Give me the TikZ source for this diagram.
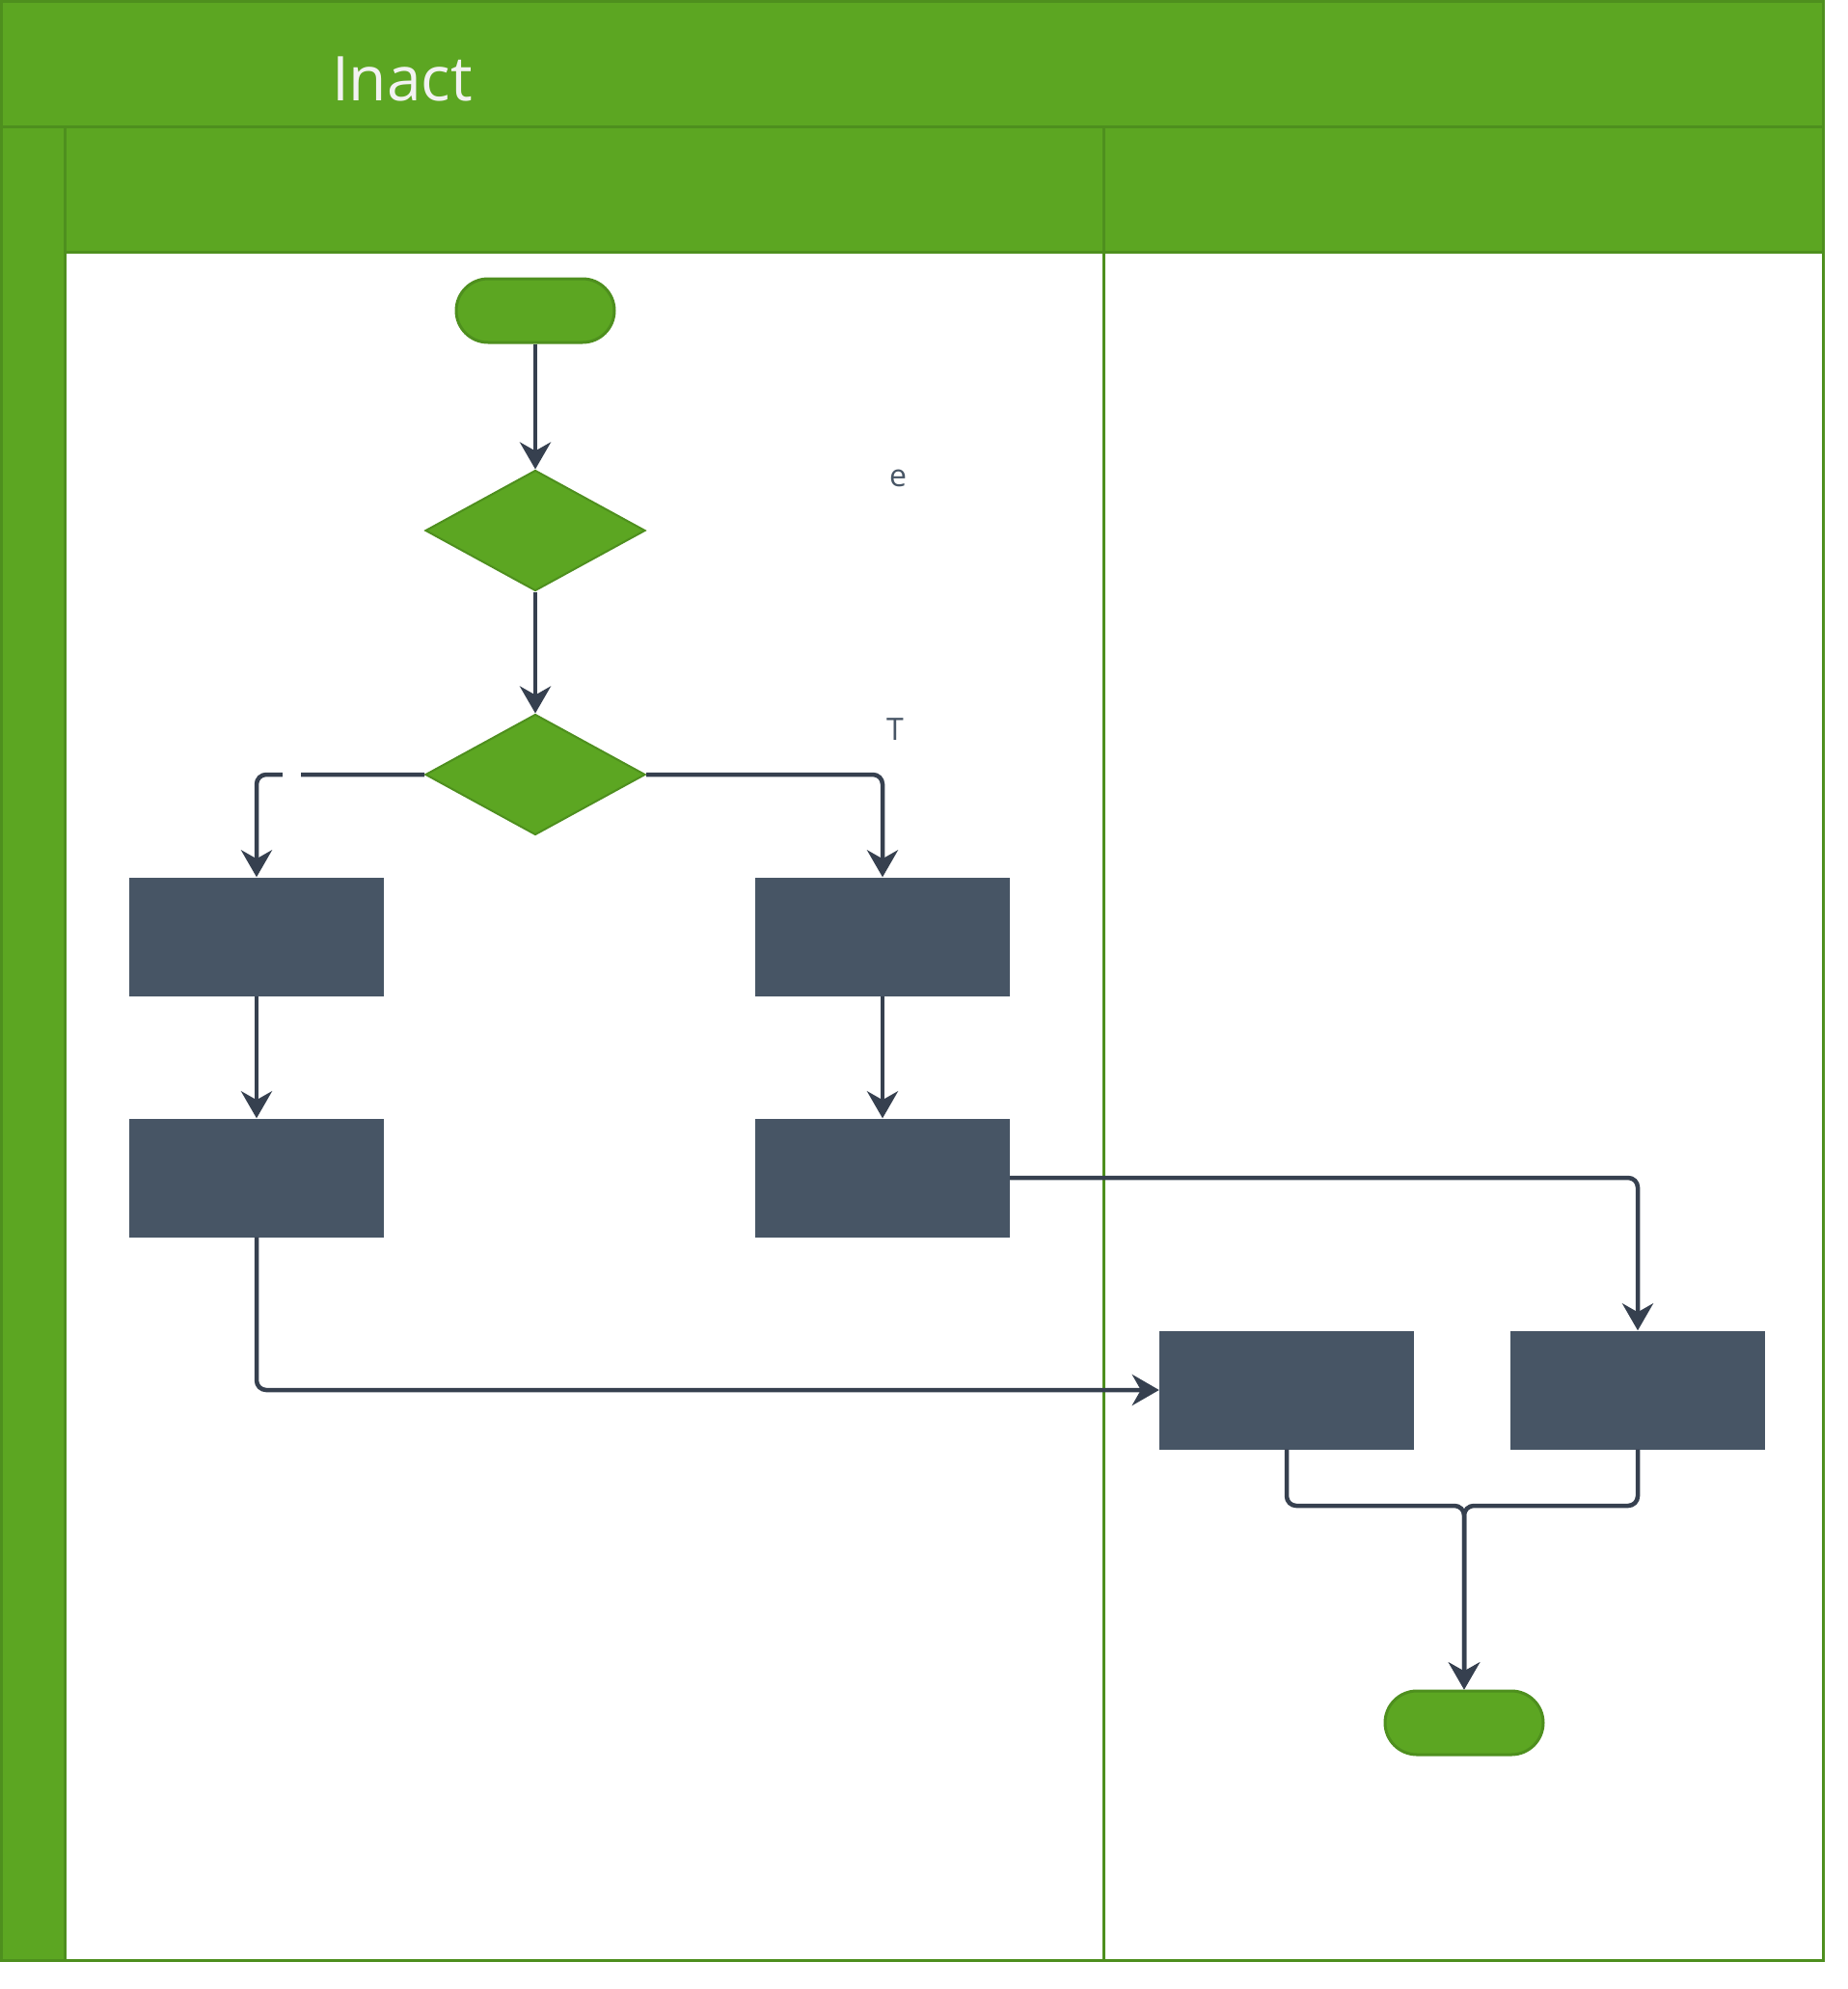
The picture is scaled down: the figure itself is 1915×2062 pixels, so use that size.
\documentclass[tikz,border=0pt]{standalone}
\usepackage{fontspec}
\setmainfont{Open Sans}
\usepackage{xcolor}
\usetikzlibrary{positioning,arrows.meta,shapes.geometric}
\definecolor{lanegreen}{RGB}{92,166,34}
\definecolor{laneborder}{RGB}{78,143,30}
\definecolor{boxgray}{RGB}{71,85,101}
\definecolor{arrowgray}{RGB}{54,64,79}
\definecolor{titlewhite}{RGB}{242,242,242}

\begin{document}
\begin{tikzpicture}[x=1pt, y=-1pt,
  lane/.style={draw=laneborder, line width=3pt},
  terminal/.style={draw=laneborder, fill=lanegreen, line width=3pt, rounded corners=33pt, minimum width=164pt, minimum height=66pt},
  decision/.style={diamond, draw=laneborder, fill=lanegreen, line width=2pt, minimum width=228pt, minimum height=125pt, inner sep=0pt},
  process/.style={rectangle, fill=boxgray, minimum width=264pt, minimum height=123pt},
  flow/.style={-{Stealth[length=28pt, width=32pt, inset=9pt]}, draw=arrowgray, line width=4.5pt, rounded corners=10pt},
  note/.style={text=boxgray, font=\fontsize{32}{38}\selectfont}]
\useasboundingbox (0,0) rectangle (1915,2062);
% pool and lanes
\fill[lanegreen] (1.5,1.5) rectangle (1890,261);
\fill[lanegreen] (1.5,131) rectangle (67,2032);
\draw[lane] (1.5,1.5) rectangle (1890,2032);
\draw[lane] (1.5,131) -- (1890,131);
\draw[lane] (67,131) -- (67,2032);
\draw[lane] (67,261) -- (1890,261);
\draw[lane] (1144,131) -- (1144,2032);
\node[text=titlewhite, font=\fontsize{64}{78}\selectfont] (title) at (417,82) {Inact};
% shapes
\node[terminal] (start) at (555,322) {};
\node[decision] (check1) at (555,550) {};
\node[decision] (check2) at (555,803) {};
\node[process] (left1) at (266,971) {};
\node[process] (right1) at (915,971) {};
\node[process] (left2) at (266,1221) {};
\node[process] (right2) at (915,1221) {};
\node[process] (laneA) at (1334,1441) {};
\node[process] (laneB) at (1698,1441) {};
\node[terminal] (stop) at (1518,1786) {};
\coordinate (merge) at (1518,1561);
\node[note] (labelE) at (931,496) {e};
\node[note] (labelT) at (928,756) {T};
% flows
\draw[flow] (start) -- (check1);
\draw[flow] (check1) -- (check2);
\draw[flow] (check2.west) -| (left1.north);
\node[fill=white, minimum width=19pt, minimum height=12pt, inner sep=0pt] (gap) at (302,803) {};
\draw[flow] (check2.east) -| (right1.north);
\draw[flow] (left1) -- (left2);
\draw[flow] (right1) -- (right2);
\draw[flow] (left2.south) |- (laneA.west);
\draw[flow] (right2.east) -| (laneB.north);
\draw[flow] (laneA.south) |- (merge) -- (stop.north);
\draw[flow] (laneB.south) |- (merge) -- (stop.north);
\end{tikzpicture}
\end{document}
